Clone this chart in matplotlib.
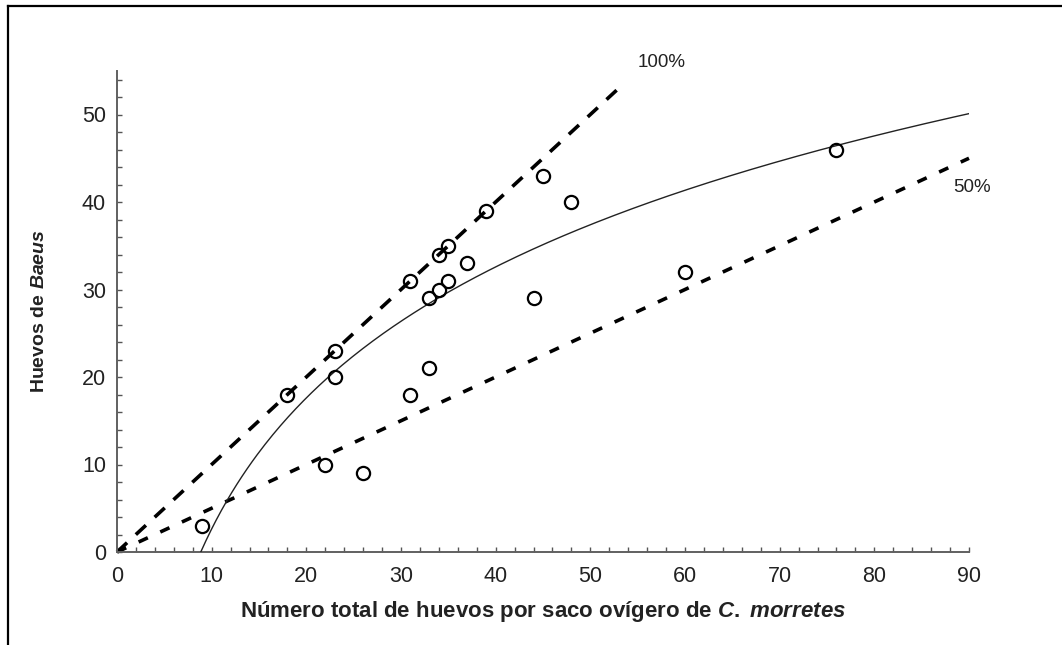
import numpy as np
import matplotlib
matplotlib.use("Agg")
import matplotlib.pyplot as plt
from matplotlib.ticker import MultipleLocator
from matplotlib.lines import Line2D

plt.rcParams['font.family'] = ['Liberation Sans', 'DejaVu Sans']
plt.rcParams['mathtext.fontset'] = 'custom'
plt.rcParams['mathtext.rm'] = 'Liberation Sans:bold'
plt.rcParams['mathtext.it'] = 'Liberation Sans:bold:italic'

# Observed points: total eggs per egg sac (x) vs Baeus eggs (y)
total_eggs = [9, 18, 22, 23, 23, 26, 31, 31, 33, 33, 34, 34, 35, 35, 37, 39, 44, 45, 48, 60, 76]
baeus_eggs = [3, 18, 10, 23, 20, 9, 31, 18, 29, 21, 34, 30, 35, 31, 33, 39, 29, 43, 40, 32, 46]

# Reference lines (fraction parasitized) and their x extents
line_100_x = [0, 53.5]
line_100_y = [0, 53.5]
line_50_x = [0, 90]
line_50_y = [0, 45]

# Logarithmic fit y = a * ln(x / x0)
fit_a = 21.6
fit_x0 = 8.85
fit_xmax = 90

x_ticks = [0, 10, 20, 30, 40, 50, 60, 70, 80, 90]
y_ticks = [0, 10, 20, 30, 40, 50]

fig = plt.figure(figsize=(10.62, 6.45), dpi=100)
ax = fig.add_axes([117/1062, 1-552/645, (969-117)/1062, (552-70.75)/645])

# frame lines around the figure (left and top)
fig.add_artist(Line2D([8/1062, 8/1062], [0, 1-6/645], color='black', lw=1.6, transform=fig.transFigure))
fig.add_artist(Line2D([8/1062, 1], [1-6/645, 1-6/645], color='black', lw=1.6, transform=fig.transFigure))

ax.plot(line_100_x, line_100_y, color='black', lw=2.6, linestyle=(0, (3.8, 3.3)),
        dash_capstyle='butt', clip_on=False, zorder=2)
ax.plot(line_50_x, line_50_y, color='black', lw=2.6, linestyle=(0, (2.8, 3.8)),
        dash_capstyle='butt', clip_on=False, zorder=2)

xf = np.linspace(fit_x0, fit_xmax, 300)
ax.plot(xf, fit_a*np.log(xf/fit_x0), color='#222222', lw=1.0, zorder=3)

ax.plot(total_eggs, baeus_eggs, linestyle='none', marker='o', markersize=9.5,
        markerfacecolor='none', markeredgecolor='black', markeredgewidth=1.6, zorder=4, clip_on=False)

ax.text(57.5, 55.9, '100%', fontsize=13.5, ha='center', va='center', color='#222222')
ax.text(90.3, 41.6, '50%', fontsize=13.5, ha='center', va='center', color='#222222')

ax.set_xlim(0, 90)
ax.set_ylim(0, 55)
ax.set_xticks(x_ticks)
ax.set_yticks(y_ticks)
ax.xaxis.set_minor_locator(MultipleLocator(2))
ax.yaxis.set_minor_locator(MultipleLocator(2))
ax.tick_params(which='both', direction='in', length=3.5, width=1, color='#555555',
               labelsize=15.5, labelcolor='#222222')
ax.tick_params(axis='x', pad=10)
ax.tick_params(axis='y', pad=8)

for s in ['top', 'right']:
    ax.spines[s].set_visible(False)
for s in ['left', 'bottom']:
    ax.spines[s].set_color('#606060')
    ax.spines[s].set_linewidth(1.4)

ax.set_xlabel(r'Número total de huevos por saco ovígero de $C.$ $morretes$', fontsize=16,
              fontweight='bold', labelpad=9, color='#222222')
ax.set_ylabel(r'Huevos de $Baeus$', fontsize=14, fontweight='bold', labelpad=24, color='#222222')

fig.savefig('out.png', dpi=100)
